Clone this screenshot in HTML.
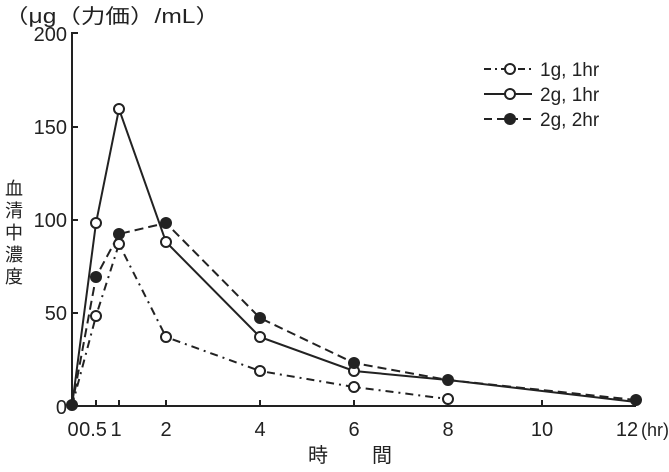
<!DOCTYPE html>
<html><head><style>body{margin:0;background:#fff}</style></head><body>
<svg width="669" height="467" xmlns="http://www.w3.org/2000/svg" font-family="Liberation Sans, Noto Sans CJK JP, sans-serif" fill="#222">
<text x="4" y="23" font-size="20" textLength="216" lengthAdjust="spacingAndGlyphs">（μg（力価）/mL）</text>
<g stroke="#222" stroke-width="2" fill="none">
<polyline points="78,33 72,33 72,406 636,406"/>
<line x1="72" y1="127" x2="78" y2="127"/>
<line x1="72" y1="220" x2="78" y2="220"/>
<line x1="72" y1="313" x2="78" y2="313"/>
<line x1="96" y1="406" x2="96" y2="400"/><line x1="119" y1="406" x2="119" y2="400"/>
<line x1="166" y1="406" x2="166" y2="400"/><line x1="260" y1="406" x2="260" y2="400"/>
<line x1="354" y1="406" x2="354" y2="400"/><line x1="448" y1="406" x2="448" y2="400"/>
<line x1="542" y1="406" x2="542" y2="400"/><line x1="636" y1="406" x2="636" y2="400"/>
</g>
<g font-size="20" text-anchor="end">
<text x="67" y="41">200</text><text x="67" y="134">150</text><text x="67" y="227">100</text><text x="67" y="320">50</text><text x="67" y="414">0</text>
</g>
<g font-size="20" text-anchor="middle">
<text x="73" y="436">0</text><text x="93" y="436">0.5</text><text x="116" y="436">1</text>
<text x="166" y="436">2</text><text x="260" y="436">4</text><text x="354" y="436">6</text>
<text x="448" y="436">8</text><text x="542" y="436">10</text><text x="627" y="436">12</text>
<text x="655" y="436" font-size="18">(hr)</text>
</g>
<g font-size="20" text-anchor="middle">
<text x="318" y="462">時</text><text x="382" y="462">間</text>
</g>
<g font-size="18" text-anchor="middle">
<text x="14" y="195">血</text><text x="14" y="217">清</text><text x="14" y="239">中</text><text x="14" y="261">濃</text><text x="14" y="283">度</text>
</g>
<g stroke="#222" stroke-width="2" fill="none">
<polyline stroke-dasharray="8,5,2,5" points="72,406 96,316 119,244 166,337 260,371 354,387 448,399"/>
<polyline points="72,406 96,223 119,109 166,242 260,337 354,371 448,380 636,402"/>
<polyline stroke-dasharray="9,5" points="72,406 96,277 119,234 166,223 260,318 354,363 448,380 636,400"/>
</g>
<g stroke="#222" stroke-width="2" fill="#fff">
<circle cx="96" cy="316" r="5"/><circle cx="119" cy="244" r="5"/><circle cx="166" cy="337" r="5"/><circle cx="260" cy="371" r="5"/><circle cx="354" cy="387" r="5"/><circle cx="448" cy="399" r="5"/>
<circle cx="96" cy="223" r="5"/><circle cx="119" cy="109" r="5"/><circle cx="166" cy="242" r="5"/><circle cx="260" cy="337" r="5"/><circle cx="354" cy="371" r="5"/>
</g>
<g fill="#222">
<circle cx="72" cy="405" r="6"/><circle cx="96" cy="277" r="6"/><circle cx="119" cy="234" r="6"/><circle cx="166" cy="223" r="6"/><circle cx="260" cy="318" r="6"/><circle cx="354" cy="363" r="6"/><circle cx="448" cy="380" r="6"/><circle cx="636" cy="400" r="6"/>
</g>
<g stroke="#222" stroke-width="2">
<line x1="484" y1="69" x2="532" y2="69" stroke-dasharray="7,4,2,4"/>
<line x1="484" y1="94" x2="532" y2="94"/>
<line x1="484" y1="119" x2="532" y2="119" stroke-dasharray="8,5"/>
<circle cx="510" cy="69" r="5" fill="#fff"/><circle cx="510" cy="94" r="5" fill="#fff"/>
</g>
<circle cx="510" cy="119" r="6" fill="#222"/>
<g font-size="19"><text x="540" y="76">1g, 1hr</text><text x="540" y="101">2g, 1hr</text><text x="540" y="126">2g, 2hr</text></g>
</svg>
</body></html>
